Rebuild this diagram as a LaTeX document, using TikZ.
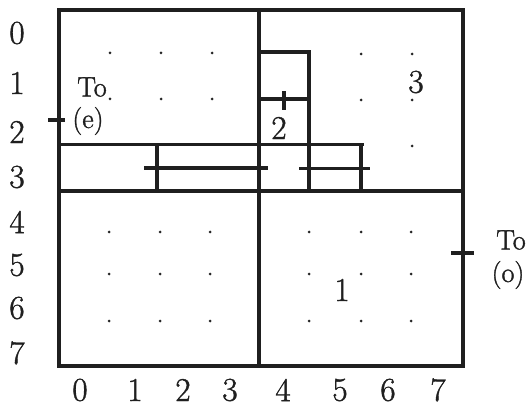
\documentclass[tikz,border=0pt]{standalone}
\usepackage{fontspec}
\setmainfont{Latin Modern Roman}
\newfontfamily\labfont{Latin Modern Roman}[FakeBold=1.2]
\begin{document}
\begin{tikzpicture}[x=0.75pt,y=-0.75pt,
  wall/.style={line width=2.4pt,draw=black!88,line cap=rect},
  dotmark/.style={fill=black!85,draw=none},
  lab/.style={inner sep=0pt,font=\labfont\fontsize{25}{27}\selectfont,text=black!88},
  smalllab/.style={inner sep=0pt,font=\labfont\fontsize{21}{23}\selectfont,text=black!88}]
\useasboundingbox (0,0) rectangle (527,409);
% outer frame and main cross
\draw[wall] (59,10) rectangle (463,366);
\draw[wall] (259,10) -- (259,366);
\draw[wall] (59,191) -- (463,191);
% inner partitions
\draw[wall] (63,144.5) -- (362,144.5);
\draw[wall] (157,144.5) -- (157,191);
\draw[wall] (146,168) -- (266,168);
\draw[wall] (301,168.5) -- (368,168.5);
\draw[wall] (361,144.5) -- (361,191);
\draw[wall] (259,52) -- (309,52) -- (309,191);
\draw[wall] (259,99) -- (309,99);
\draw[wall] (284,93) -- (284,108);
% ticks
\draw[wall] (50,120) -- (63,120);
\draw[wall] (453,253) -- (472,253);
% dots
\foreach \p in {(110,53),(161,53),(212,53),(110,99),(161,99),(212,99),
  (361,54),(412,54),(361,100),(412,100),(412,146),
  (109,232),(160,232),(210,232),(109,274),(160,274),(210,274),(109,321),(160,321),(210,321),
  (309,232),(361,232),(411,232),(309,274),(361,274),(411,274),(309,321),(361,321),(411,321)}
  \fill[dotmark] \p circle (1.5);
% row labels
\node[lab] (r0) at (17,33) {0};
\node[lab] (r1) at (17,83) {1};
\node[lab] (r2) at (17,132) {2};
\node[lab] (r3) at (17,177) {3};
\node[lab] (r4) at (17,222) {4};
\node[lab] (r5) at (17,265) {5};
\node[lab] (r6) at (17,308) {6};
\node[lab] (r7) at (17,353) {7};
% column labels
\node[lab] (c0) at (80,390) {0};
\node[lab] (c1) at (135,390) {1};
\node[lab] (c2) at (183,390) {2};
\node[lab] (c3) at (230,390) {3};
\node[lab] (c4) at (283,390) {4};
\node[lab] (c5) at (340,390) {5};
\node[lab] (c6) at (388,390) {6};
\node[lab] (c7) at (438,390) {7};
% room labels
\node[lab] (room1) at (342,290) {1};
\node[lab] (room2) at (279,128) {2};
\node[lab] (room3) at (416,82) {3};
% exits
\node[smalllab] (toe1) at (92,87) {To};
\node[smalllab] (toe2) at (88,121) {(e)};
\node[smalllab] (too1) at (511,240) {To};
\node[smalllab] (too2) at (508,275) {(o)};
\end{tikzpicture}
\end{document}
